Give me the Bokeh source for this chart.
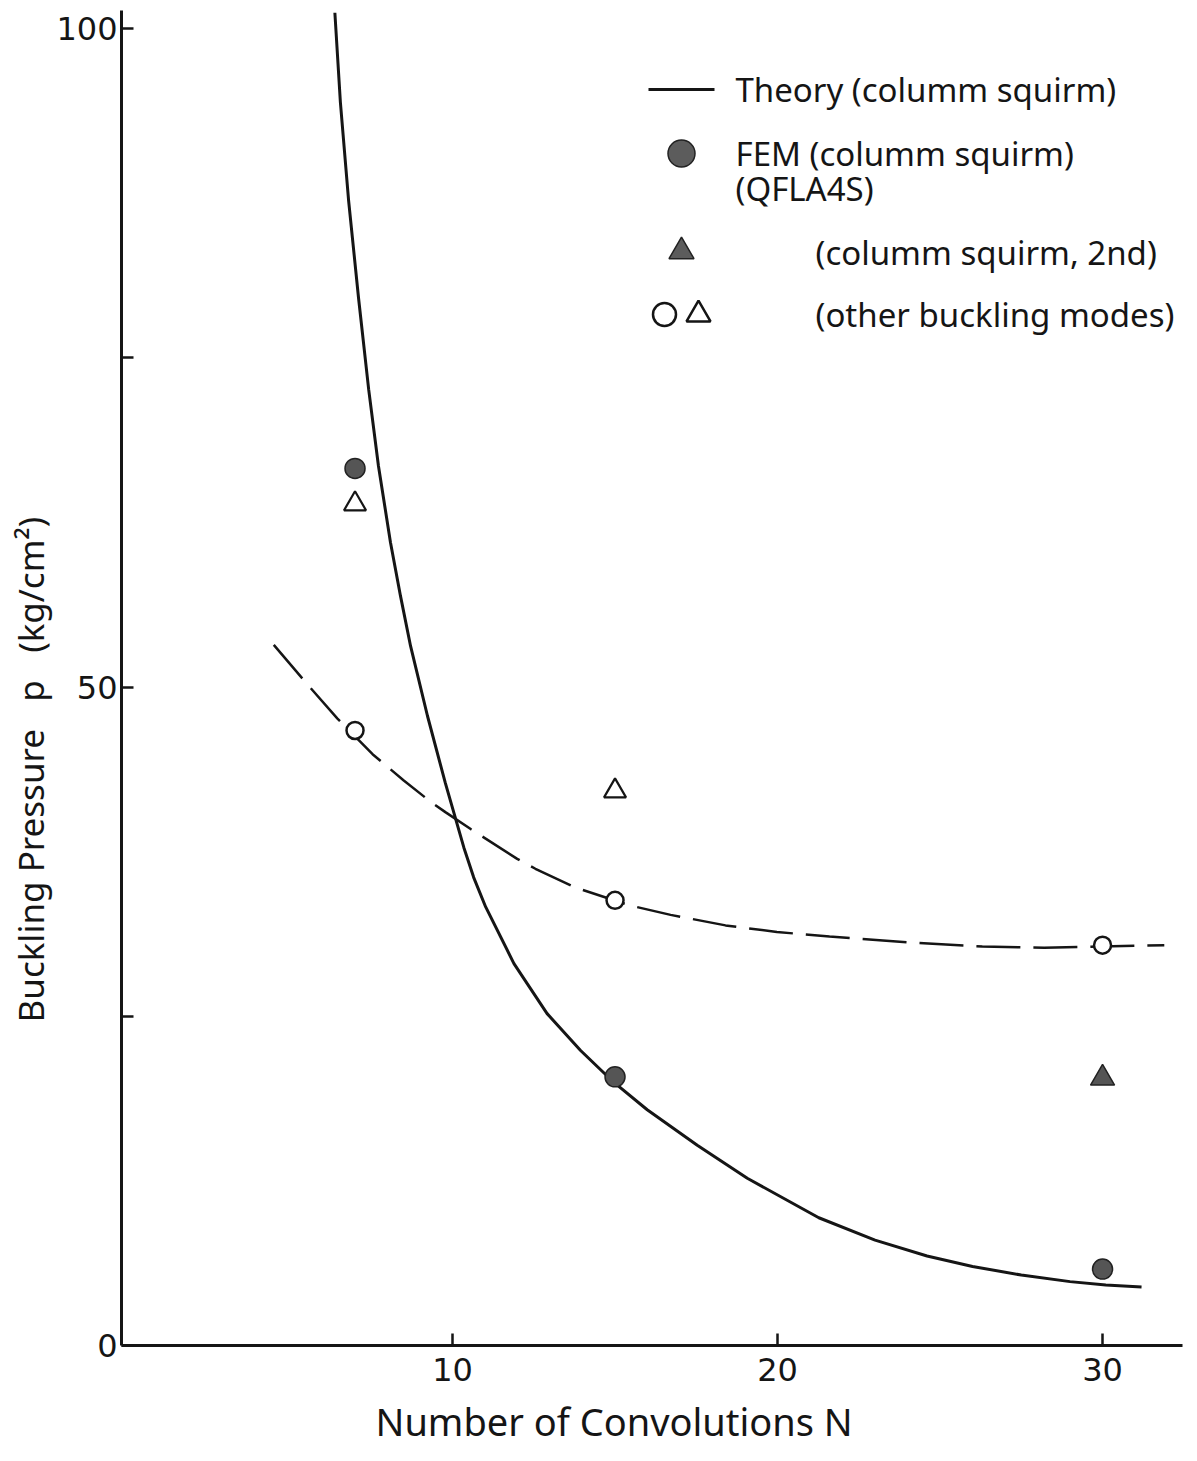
from bokeh.plotting import figure
from bokeh.models import Range1d, FixedTicker, Title
from bokeh.core.properties import value
from bokeh.embed import file_html
from bokeh.resources import INLINE

# ---------------- data ----------------
theory_n = [6.38, 6.55, 6.80, 7.11, 7.42, 7.72, 8.09, 8.40, 8.71, 9.23, 9.78, 10.35,
            10.65, 11.02, 11.89, 12.91, 13.94, 14.91, 15.99, 17.53, 19.07, 21.27,
            23.0, 24.6, 26.0, 27.5, 29.0, 30.1, 31.2]
theory_p = [101.2, 94.4, 87.0, 79.5, 72.6, 66.8, 61.0, 56.9, 53.1, 47.8, 42.7, 37.8,
            35.55, 33.3, 29.0, 25.2, 22.4, 20.1, 17.9, 15.2, 12.7, 9.7,
            8.0, 6.8, 6.0, 5.35, 4.85, 4.6, 4.45]

other_curve_n = [4.5, 5.5, 6.46, 7.54, 8.5, 9.32, 9.78, 10.57, 11.99, 12.55, 13.75,
                 15.48, 16.71, 18.4, 19.98, 21.6, 24.1, 26.3, 28.2, 31.9]
other_curve_p = [53.2, 50.3, 47.6, 44.9, 42.9, 41.3, 40.5, 39.2, 36.95, 36.2, 34.8,
                 33.4, 32.7, 31.9, 31.4, 31.05, 30.6, 30.3, 30.2, 30.4]

fem_n = [7, 15, 30]
fem_p = [66.6, 20.4, 5.8]

second_n = [30]
second_p = [20.3]

other_circle_n = [7, 15, 30]
other_circle_p = [46.7, 33.8, 30.4]

other_tri_n = [7, 15]
other_tri_p = [63.9, 42.1]

x_ticks = [10, 20, 30]
y_ticks = [0, 25, 50, 75, 100]
y_tick_labels = {0: "0", 25: "", 50: "50", 75: "", 100: "100"}

NB = "\u00a0"
x_title = "Number of Convolutions N"
y_title = "Buckling Pressure" + NB * 2 + " p" + NB * 2 + " (kg/cm²)"

legend_texts = ["Theory (columm squirm)", "FEM (columm squirm)", "(QFLA4S)",
                "(columm squirm, 2nd)", "(other buckling modes)"]

# ---------------- layout ----------------
X0, X1 = -0.185, 32.46
Y0, Y1 = 0, 101.37
BL, BR, BT, BB = 121, 7, 10, 116
FW, FH = 1061, 1335
W, H = BL + FW + BR, BT + FH + BB
FONT = "Noto Sans"
INK = "#151515"


def page_to_data(px, py):
    """Convert a page pixel position to data coordinates (legend layout only)."""
    return (X0 + (px - BL) / FW * (X1 - X0), Y0 + (BT + FH - py) / FH * (Y1 - Y0))


p = figure(width=W, height=H, x_range=Range1d(X0, X1), y_range=Range1d(Y0, Y1),
           output_backend="svg", toolbar_location=None,
           min_border_left=BL, min_border_right=BR, min_border_top=BT, min_border_bottom=BB)
p.grid.visible = False
p.outline_line_color = None
p.background_fill_color = "white"
p.border_fill_color = "white"

for ax in (p.xaxis[0], p.yaxis[0]):
    ax.axis_line_width = 3
    ax.axis_line_color = INK
    ax.major_tick_in = 12
    ax.major_tick_out = 0
    ax.major_tick_line_width = 2.5
    ax.major_tick_line_color = INK
    ax.minor_tick_line_color = None
    ax.major_label_text_font = "DejaVu Sans"
    ax.major_label_text_font_size = "32px"
    ax.major_label_text_color = INK

p.xaxis.ticker = FixedTicker(ticks=x_ticks)
p.xaxis.major_label_standoff = 12
p.yaxis.ticker = FixedTicker(ticks=y_ticks)
p.yaxis.major_label_overrides = y_tick_labels
p.yaxis.major_label_standoff = 4

# axis titles
p.add_layout(Title(text=x_title, align="left", offset=254, standoff=19,
                   text_font=FONT, text_font_size="38px", text_font_style="normal",
                   text_color=INK), "below")
p.add_layout(Title(text=y_title, align="left", offset=323, standoff=0,
                   text_font=FONT, text_font_size="35px", text_font_style="normal",
                   text_color=INK), "left")

# curves
p.line(theory_n, theory_p, line_width=3, line_color=INK)
p.line(other_curve_n, other_curve_p, line_width=2.5, line_color=INK, line_dash="44 13")

# points
p.scatter(fem_n, fem_p, marker="circle", size=20, fill_color="#555555",
          line_color="#222222", line_width=1.5)
p.scatter(second_n, second_p, marker="triangle", size=24, fill_color="#555555",
          line_color="#222222", line_width=1.5)
p.scatter(other_circle_n, other_circle_p, marker="circle", size=17, fill_color="white",
          line_color=INK, line_width=2.5)
p.scatter(other_tri_n, other_tri_p, marker="triangle", size=22, fill_color="white",
          line_color=INK, line_width=2.2)

# ---------------- legend (drawn manually, laid out as in the original) ----------------
lx0, ly = page_to_data(648, 89)
lx1, _ = page_to_data(714, 89)
p.line([lx0, lx1], [ly, ly], line_width=3, line_color=INK)
cx, cy = page_to_data(681, 153)
p.scatter([cx], [cy], marker="circle", size=27, fill_color="#5c5c5c",
          line_color="#222222", line_width=1.5)
tx, ty = page_to_data(681, 251)
p.scatter([tx], [ty], marker="triangle", size=25, fill_color="#5c5c5c",
          line_color="#222222", line_width=1.5)
ox, oy = page_to_data(664, 314)
p.scatter([ox], [oy], marker="circle", size=23, fill_color="white", line_color=INK, line_width=2.5)
ox2, oy2 = page_to_data(698, 314)
p.scatter([ox2], [oy2], marker="triangle", size=24, fill_color="white", line_color=INK,
          line_width=2.5)

legend_pos = [(735, 89), (735, 153), (735, 188), (815, 252), (815, 314)]
lt_x, lt_y = [], []
for (px, py) in legend_pos:
    dx, dy = page_to_data(px, py)
    lt_x.append(dx)
    lt_y.append(dy)
p.text(lt_x, lt_y, text=legend_texts, text_font=value(FONT), text_font_size="33px",
       text_color=INK, text_align="left", text_baseline="middle")

open("out.html", "w").write(file_html(p, INLINE))
